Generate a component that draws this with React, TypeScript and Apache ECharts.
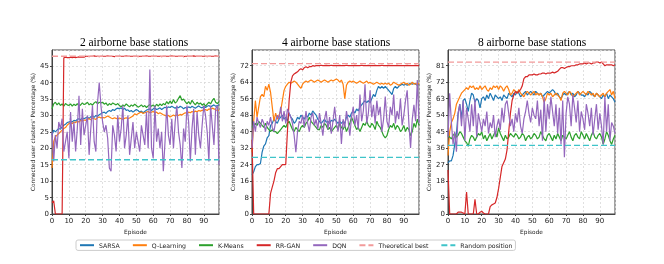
import React, { useEffect, useRef } from "react";
import * as echarts from "echarts";

const methods = ["SARSA", "Q-Learning", "K-Means", "RR-GAN", "DQN"];
const refNames = ["Theoretical best", "Random position"];
const titles = ["2 airborne base stations", "4 airborne base stations", "8 airborne base stations"];
const yMax = [49.9, 79.6, 89.6];
const yInterval = [5, 8, 9];
const theoreticalBest = [48, 73, 83];
const randomPosition = [16.5, 27.5, 37.5];

// ---- 2 airborne base stations ----
const sarsa2 = [24, 25.5, 25, 25.5, 26, 25.8, 26.5, 27, 27.3, 27.8,
  28, 28.2, 28, 28.5, 28.3, 28.8, 29, 28.7, 29.2, 29,
  29.3, 29.5, 29, 29.6, 29.8, 29.4, 30, 29.7, 30.2, 30.5,
  30.8, 31, 30.6, 31.2, 31.5, 31.2, 31.8, 31.5, 32, 32.2,
  32, 32.3, 31.8, 32.2, 31.5, 31.7, 31.2, 31.5, 31, 31.4,
  31.8, 31.5, 31, 31.3, 30.8, 31.2, 31.6, 31.8, 32, 31.5,
  32, 32.2, 31.8, 32, 32.3, 31.8, 32.2, 32.5, 32.2, 32.6,
  32.4, 32.8, 32.5, 32.2, 32.6, 32.3, 32.8, 32.5, 32, 32.4,
  32.2, 32.6, 32.3, 32.8, 32.5, 32.2, 32.6, 32.9, 32.5, 32.3,
  32.7, 32.4, 32.8, 33, 32.6, 32.9, 33.2, 32.8, 33, 33.2];
const qlearn2 = [14, 22, 23.5, 24, 24.5, 25, 25.5, 26, 26.3, 27,
  27.5, 27.8, 27.5, 28, 27.8, 28.2, 28, 28.5, 28.3, 28.6,
  28.5, 28.8, 29, 28.7, 29.2, 29, 28.8, 29.3, 29.5, 29.2,
  29.4, 29.2, 29.5, 29.8, 29.5, 29.2, 29, 29.3, 29.1, 28.9,
  29.2, 29, 28.8, 29.1, 29.3, 29, 29.2, 29.5, 29.8, 30.5,
  30.2, 30.5, 30.8, 31, 30.6, 30.8, 31, 31.2, 30.8, 31,
  31.2, 30.8, 31, 30.5, 30.8, 30.5, 30.2, 30, 29.8, 30,
  29.5, 29.8, 30.1, 29.8, 30.2, 30, 30.3, 30.1, 30.5, 30.8,
  30.6, 31, 30.8, 31.2, 31, 31.3, 31.1, 31.5, 31.3, 31.6,
  31.4, 31.8, 31.5, 32, 31.8, 32.2, 32, 31.7, 31.5, 31.6];
const kmeans2 = [32, 33.5, 34, 33.2, 33.8, 33, 33.5, 32.8, 33.6, 33.2,
  33, 33.5, 32.8, 33.4, 33, 33.6, 32.9, 33.2, 33.8, 33.3,
  33.5, 34, 33.2, 33.6, 33.1, 33.8, 34.2, 33.5, 34, 33.8,
  34, 33.4, 33.8, 33, 33.6, 33.2, 33.8, 33.5, 33.2, 33.6,
  33, 32.6, 33.2, 32.8, 33.5, 33, 32.6, 33.2, 32.8, 33.4,
  33, 32.5, 32.8, 33.2, 32.6, 33, 32.4, 32.9, 33.3, 32.8,
  33.2, 32.6, 33.4, 32.8, 33.5, 33, 33.6, 33.2, 34.2, 33.5,
  34.4, 33.6, 34.8, 33.8, 34.2, 35.2, 36, 34.6, 35, 34.2,
  33.5, 34.2, 33.4, 34.6, 33.8, 33.2, 34, 33.4, 33.8, 33.1,
  33.6, 32.8, 33.4, 34, 33.5, 34.5, 35.2, 34, 33.6, 34.2];
const rrgan2 = [3.5, 4, 0, 0, 0, 0, 0, 47.5, 47.7, 47.6,
  47.6, 47.7, 47.6, 47.7, 47.6, 47.7, 47.8, 47.7, 47.8, 47.7,
  48, 48, 47.9, 48, 48, 48.1, 48, 48, 47.9, 48,
  48, 48, 48, 48.1, 48, 48, 48, 47.9, 48, 48,
  48, 48, 48, 48, 48.1, 48, 48, 48, 48, 48,
  48, 47.9, 48, 48, 48, 48, 48.1, 48, 48, 48,
  48, 48, 48, 48, 48, 47.9, 48, 48, 48, 48,
  48, 48.1, 48, 48, 48, 48, 48, 48, 47.9, 48,
  48, 48, 48, 48, 48.1, 48, 48, 48, 48, 48,
  48, 48, 47.9, 48, 48, 48, 48, 48.1, 48, 48];
const dqn2 = [25, 16, 24, 20, 28, 26, 29, 19, 22, 25,
  17, 31, 22, 28, 19, 26, 36, 21, 32, 24,
  27, 30, 18, 26, 33, 22, 19, 34, 40, 33,
  28, 25, 27, 23, 14, 13, 27, 24, 19, 30,
  22, 26, 33, 20, 24, 30, 18, 23, 28, 20,
  25, 22, 19, 27, 24, 21, 31, 20, 44, 20,
  17, 33, 22, 26, 20, 25, 13, 22, 33, 24,
  21, 29, 20, 28, 33, 25, 21, 14, 26, 22,
  33, 28, 16, 26, 32, 18, 31, 24, 20, 27,
  33, 30, 25, 16, 33, 27, 21, 32, 33, 15];

// ---- 4 airborne base stations ----
const sarsa4 = [19, 20.5, 23, 24, 24, 24.5, 30, 33, 34, 37,
  38, 43, 44, 46, 45, 44, 46, 47, 48, 46,
  47, 45, 49, 47, 46, 44, 45, 47, 46, 48,
  47, 46, 48, 47, 49, 48, 50, 49, 48, 46,
  45, 44, 45, 46, 44.5, 45, 44, 45.5, 45, 46,
  45, 44, 45, 44, 45, 44, 47, 48, 47, 49,
  50, 49, 51, 50, 52, 53, 54, 55, 54, 55,
  54, 56, 58, 57, 60, 62, 61, 62, 61, 62,
  61, 60, 59, 58, 61, 62, 61, 62, 62.5, 63,
  62.5, 63, 62.5, 63, 63.5, 63, 63.5, 63, 62.5, 63];
const qlearn4 = [30, 45, 55, 47, 52, 57, 58, 57, 62, 60,
  63, 59, 52, 45, 49, 46, 48, 50, 55, 60,
  62, 63, 64, 63.5, 64, 64.5, 64, 63, 62, 61,
  63, 64, 64.5, 64, 64.5, 65, 64.5, 64, 64.5, 65,
  64.5, 64, 64.5, 65, 64.5, 64, 64.5, 65, 64.5, 65,
  65.5, 65, 64, 65, 63, 56, 62.5, 64, 64.5, 64,
  64.5, 64, 63.5, 64, 64.5, 64, 63.5, 64, 64.5, 63.5,
  64, 63.5, 63, 63.5, 64, 63.5, 63, 63.5, 63, 63.5,
  63, 63.5, 62.5, 63, 64, 63.5, 63, 62.5, 63, 63.5,
  64, 63, 63.5, 62.5, 63, 64, 63, 63.5, 62.5, 63.5];
const kmeans4 = [42, 43, 44, 43, 45, 44, 43, 42, 44, 42,
  41, 40, 41, 40, 40, 39, 40, 41, 42, 43,
  42, 44, 45, 43, 41, 40, 42, 41, 40, 42,
  43, 42, 44, 45, 47, 45, 44, 43, 42, 41,
  41, 43, 42, 44, 43, 41, 42, 40, 41, 42,
  43, 41, 44, 42, 41, 43, 40, 42, 44, 47,
  45, 43, 41, 42, 40, 42, 44, 43, 45, 43,
  42, 44, 43, 41, 45, 43, 42, 40, 38, 37,
  38, 41, 43, 42, 44, 41, 43, 42, 40, 41,
  43, 40, 42, 41, 38, 40, 44, 42, 46, 43];
const rrgan4 = [36, 0, 0, 0, 0, 0, 0, 0, 0, 0,
  0, 10, 13, 16, 20, 22, 22, 23, 24, 24,
  24, 40, 55, 64, 67, 68, 68.5, 69, 70, 70.5,
  70, 71, 71.5, 71, 71.5, 71.5, 72, 71.8, 72, 72,
  72, 72.2, 72, 72, 72.1, 72, 72, 72.2, 72, 72,
  72, 72, 72.1, 72, 72, 72, 72.2, 72, 72, 72,
  72, 72.1, 72, 72, 72, 72.2, 72, 72, 72, 72.1,
  72, 72, 72, 72.1, 72, 72, 72, 72.2, 72, 72,
  72, 72.1, 72, 72, 72, 72, 72.1, 72, 72, 72,
  72, 72, 72.1, 72, 72, 72, 72, 72.1, 72, 72];
const dqn4 = [32, 45, 40, 47, 44, 42, 46, 44, 40, 45,
  43, 47, 42, 40, 45, 48, 46, 52, 45, 50,
  44, 51, 49, 47, 44, 38, 30, 40, 45, 44,
  48, 42, 50, 44, 40, 47, 49, 43, 46, 41,
  49, 44, 38, 46, 50, 41, 47, 39, 45, 52,
  44, 40, 48, 34, 46, 42, 50, 45, 38, 47,
  52, 43, 48, 41, 58, 45, 50, 63, 44, 49,
  60, 47, 53, 44, 55, 48, 52, 40, 46, 57,
  45, 42, 52, 48, 58, 44, 50, 46, 56, 43,
  48, 55, 60, 44, 32, 46, 53, 45, 65, 44];

// ---- 8 airborne base stations ----
const sarsa8 = [28, 29, 29, 32, 38, 44, 55, 60, 52, 62,
  63, 60, 56, 62, 66, 65, 61, 63, 62, 58,
  63, 64, 62, 65, 63, 66, 64, 62, 65, 64,
  63, 64, 62, 65, 64, 63, 66, 65, 64, 66,
  65, 67, 66, 64, 65, 66, 67, 65, 66, 67,
  66, 65, 67, 66, 65, 66, 64, 65, 66, 67,
  66, 67, 68, 67, 65, 66, 64, 63, 65, 66,
  65, 66, 67, 65, 66, 64, 65, 67, 66, 65,
  65, 64, 66, 65, 67, 66, 65, 64, 66, 65,
  64, 63, 65, 64, 66, 63, 65, 64, 63, 61];
const qlearn8 = [32, 45, 50, 52, 55, 60, 62, 64, 66, 67,
  68, 69, 68, 70, 69, 70, 68, 69, 68, 70,
  68, 69, 70, 68, 67, 69, 68, 70, 69, 70,
  68, 70, 69, 67, 69, 70, 68, 65, 66, 68,
  67, 66, 68, 66, 65, 64, 66, 67, 66, 65,
  66, 67, 65, 66, 65, 66, 64, 61, 63, 66,
  65, 66, 64, 65, 66, 65, 64, 62, 66, 67,
  66, 65, 67, 66, 64, 65, 66, 67, 65, 66,
  67, 66, 65, 67, 66, 65, 66, 64, 66, 65,
  64, 65, 66, 64, 66, 67, 68, 65, 67, 63];
const kmeans8 = [43, 42, 41, 43, 44, 42, 43, 45, 44, 42,
  40, 39, 37, 41, 43, 42, 40, 42, 44, 43,
  45, 41, 43, 40, 42, 44, 41, 43, 45, 42,
  47, 44, 42, 40, 43, 41, 42, 44, 43, 42,
  44, 43, 41, 42, 44, 43, 40, 42, 43, 41,
  42, 44, 43, 41, 42, 45, 43, 41, 40, 43,
  44, 42, 40, 43, 41, 44, 42, 40, 43, 42,
  41, 43, 45, 42, 40, 43, 44, 42, 41, 45,
  43, 41, 44, 42, 40, 43, 45, 42, 41, 43,
  44, 42, 38, 41, 45, 43, 40, 38, 41, 43];
const rrgan8 = [24, 0, 0, 0, 0, 0, 1, 1, 1, 0.5,
  0, 12, 0, 0, 0, 0, 8, 0, 0, 1,
  1.5, 0.5, 0, 0, 0, 4, 5, 5.5, 6, 9,
  14, 20, 26, 28, 30, 35, 45, 55, 62, 65,
  67, 66, 67, 68, 70, 74, 75, 75, 76, 76,
  76, 76.5, 76, 76, 76.5, 76.5, 77, 77, 76.5, 77,
  77, 77, 77.5, 77, 77.5, 78, 79, 80, 80, 79.5,
  80, 80.5, 80.5, 81, 81, 81, 81.5, 81.5, 82, 82,
  82, 82.5, 82, 82.5, 82.5, 82, 82.5, 82.5, 83, 83,
  82.5, 83, 82, 81, 81.5, 81.5, 81.5, 81.5, 81, 81.5];
const dqn8 = [42, 66, 50, 38, 45, 34, 55, 60, 48, 62,
  40, 58, 52, 45, 60, 48, 63, 42, 55, 50,
  45, 52, 48, 56, 44, 50, 47, 54, 42, 48,
  52, 46, 58, 50, 60, 62, 55, 48, 52, 45,
  55, 50, 58, 48, 44, 52, 56, 62, 55, 50,
  58, 54, 52, 62, 48, 57, 40, 64, 45, 60,
  52, 64, 56, 48, 60, 44, 58, 38, 62, 31,
  55, 64, 60, 48, 65, 58, 50, 62, 45, 56,
  52, 46, 60, 55, 48, 58, 43, 52, 60, 46,
  55, 48, 38, 64, 45, 60, 40, 50, 48, 44];

const panelData = [
  [sarsa2, qlearn2, kmeans2, rrgan2, dqn2],
  [sarsa4, qlearn4, kmeans4, rrgan4, dqn4],
  [sarsa8, qlearn8, kmeans8, rrgan8, dqn8],
];

const methodColors = ["#1f77b4", "#ff7f0e", "#2ca02c", "#d62728", "#9467bd"];
const refColors = ["#f29a9a", "#3fc4c9"];

const gridLefts = [52, 252, 448];
const gridWidth = 167;
const gridTop = 50;
const gridHeight = 164;
const titleCenters = [134, 336, 532];

export default function App() {
  const ref = useRef<HTMLDivElement>(null);
  useEffect(() => {
    if (!ref.current) return;
    const chart = echarts.init(ref.current, undefined, { renderer: "svg" });
    const font = "DejaVu Sans";
    const grids = gridLefts.map((l) => ({
      left: l, top: gridTop, width: gridWidth, height: gridHeight,
      show: true, borderColor: "#444", borderWidth: 1, backgroundColor: "transparent",
    }));
    const xAxes = gridLefts.map((_, i) => ({
      type: "value", gridIndex: i, min: 0, max: 99, interval: 10,
      name: "Episode", nameLocation: "middle", nameGap: 10,
      nameTextStyle: { fontSize: 5.8, fontFamily: font, color: "#222" },
      axisLine: { show: true, lineStyle: { color: "#444" } },
      axisTick: { show: true, length: 2, lineStyle: { color: "#444" } },
      axisLabel: { fontSize: 7, fontFamily: font, color: "#222", margin: 3, showMaxLabel: false },
      splitLine: { show: true, lineStyle: { color: "#d8d8d8", type: [2, 2], width: 0.8 } },
    }));
    const yAxes = gridLefts.map((_, i) => ({
      type: "value", gridIndex: i, min: 0, max: yMax[i], interval: yInterval[i],
      name: "Connected user clusters' Percentage (%)", nameLocation: "middle", nameGap: 14,
      nameTextStyle: { fontSize: 5.8, fontFamily: font, color: "#222" },
      axisLine: { show: true, lineStyle: { color: "#444" } },
      axisTick: { show: true, length: 2, lineStyle: { color: "#444" } },
      axisLabel: { fontSize: 7, fontFamily: font, color: "#222", margin: 3, showMaxLabel: false },
      splitLine: { show: true, lineStyle: { color: "#d8d8d8", type: [2, 2], width: 0.8 } },
    }));
    const series: any[] = [];
    panelData.forEach((arrs, p) => {
      arrs.forEach((arr, m) => {
        series.push({
          type: "line", name: methods[m], xAxisIndex: p, yAxisIndex: p,
          data: arr.map((v, i) => [i, v]), symbol: "none", showSymbol: false,
          lineStyle: { color: methodColors[m], width: 1.2 }, itemStyle: { color: methodColors[m] },
        });
      });
      const refs = [theoreticalBest[p], randomPosition[p]];
      refs.forEach((v, r) => {
        series.push({
          type: "line", name: refNames[r], xAxisIndex: p, yAxisIndex: p,
          data: [[0, v], [99, v]], symbol: "none", showSymbol: false,
          lineStyle: { color: refColors[r], width: 1.3, type: [6, 3] }, itemStyle: { color: refColors[r] },
        });
      });
    });
    chart.setOption({
      animation: false,
      grid: grids,
      xAxis: xAxes,
      yAxis: yAxes,
      series,
      legend: {
        data: [...methods, ...refNames],
        left: 76, top: 240, orient: "horizontal",
        padding: [2, 3], itemWidth: 14, itemHeight: 8, itemGap: 12,
        borderColor: "#ccc", borderWidth: 1, borderRadius: 2,
        itemStyle: { opacity: 0, borderWidth: 0 },
        textStyle: { fontSize: 6.2, fontFamily: font, color: "#222" },
      },
      graphic: titles.map((t, i) => ({
        type: "text", x: titleCenters[i], y: 41.5,
        style: {
          text: t, fontSize: 11.5, fontFamily: "Liberation Serif", fill: "#000",
          textAlign: "center", textVerticalAlign: "middle",
        },
      })),
    });
    return () => chart.dispose();
  }, []);
  return <div ref={ref} style={{ position: "fixed", left: 0, top: 0, width: 664, height: 264 }} />;
}
